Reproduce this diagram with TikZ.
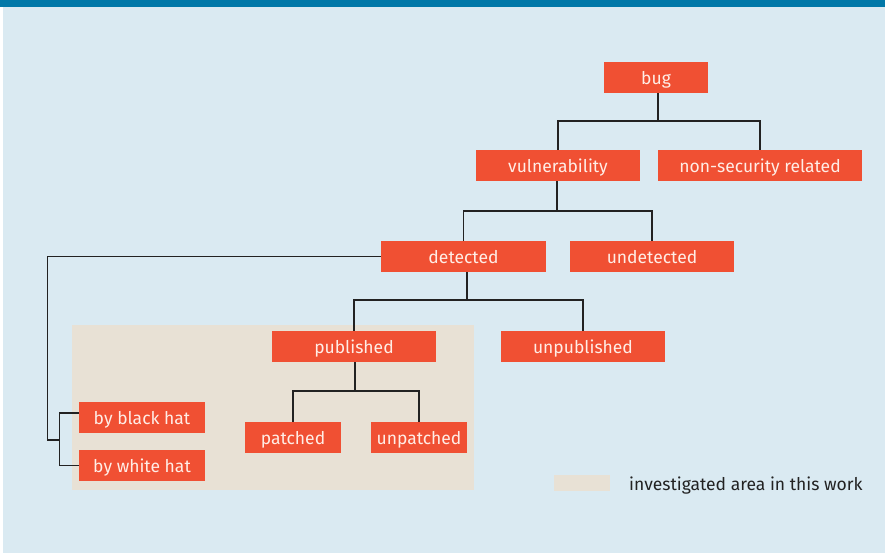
\documentclass[tikz,border=0pt]{standalone}
\usepackage{fontspec}
\setmainfont{Fira Sans}
\definecolor{boxred}{HTML}{F05033}
\definecolor{panel}{HTML}{DAEAF2}
\definecolor{bar}{HTML}{0078A8}
\definecolor{beige}{HTML}{E8E1D5}
\definecolor{linec}{HTML}{222222}
\definecolor{txt}{HTML}{FFEDE6}
\begin{document}
\begin{tikzpicture}[x=1pt,y=-1pt,
  bx/.style={fill=boxred,text=txt,inner sep=0pt,minimum height=31pt,text height=14pt,text depth=0.4pt,font=\fontsize{17.5}{19}\selectfont},
  conn/.style={draw=linec,line width=1.4pt}]
\useasboundingbox (0,0) rectangle (885,553);
\fill[white] (0,0) rectangle (885,553);
\fill[panel] (3,0) rectangle (885,553);
\fill[bar] (0,0) rectangle (885,7);
\fill[beige] (72,325) rectangle (474,490);
\node[bx,minimum width=104pt] (bug) at (656,77.5) {bug};
\node[bx,minimum width=164pt] (vul) at (558,165.5) {vulnerability};
\node[bx,minimum width=204pt] (nsr) at (760,165.5) {non-security related};
\node[bx,minimum width=165pt] (det) at (463.5,256.5) {detected};
\node[bx,minimum width=164pt] (undet) at (652,256.5) {undetected};
\node[bx,minimum width=164pt] (pub) at (354,346.5) {published};
\node[bx,minimum width=164pt] (unpub) at (583,346.5) {unpublished};
\node[bx,minimum width=96pt] (pat) at (293,437.5) {patched};
\node[bx,minimum width=96pt] (unpat) at (419,437.5) {unpatched};
\node[bx,minimum width=126pt] (black) at (142,417.5) {by black hat};
\node[bx,minimum width=126pt] (white) at (142,465.5) {by white hat};
\coordinate (j1) at (658,121);
\coordinate (j2) at (557,211);
\coordinate (j3) at (467,300);
\coordinate (j4) at (355,391);
\draw[conn] (bug.south -| j1) -- (j1) -| (vul.north); \draw[conn] (j1) -| (nsr.north);
\draw[conn] (vul.south -| j2) -- (j2) -| (det.north); \draw[conn] (j2) -| (undet.north);
\draw[conn] (det.south -| j3) -- (j3) -| (pub.north); \draw[conn] (j3) -| (unpub.north);
\draw[conn] (pub.south -| j4) -- (j4) -| (pat.north); \draw[conn] (j4) -| (unpat.north);
\coordinate (l1) at (47.5,256.5);
\coordinate (l2) at (47.5,440);
\coordinate (l3) at (59.5,440);
\draw[conn] (det.west) -- (l1) -- (l2) -- (l3);
\draw[conn] (black.west |- 0,413) -| (l3) |- (white.west);
\fill[beige] (554,475) rectangle (610,491) coordinate (sw);
\node[anchor=base west,text=linec,inner sep=0pt,font=\fontsize{17.5}{19}\selectfont] (leg) at (629,490) {investigated area in this work};
\end{tikzpicture}
\end{document}
